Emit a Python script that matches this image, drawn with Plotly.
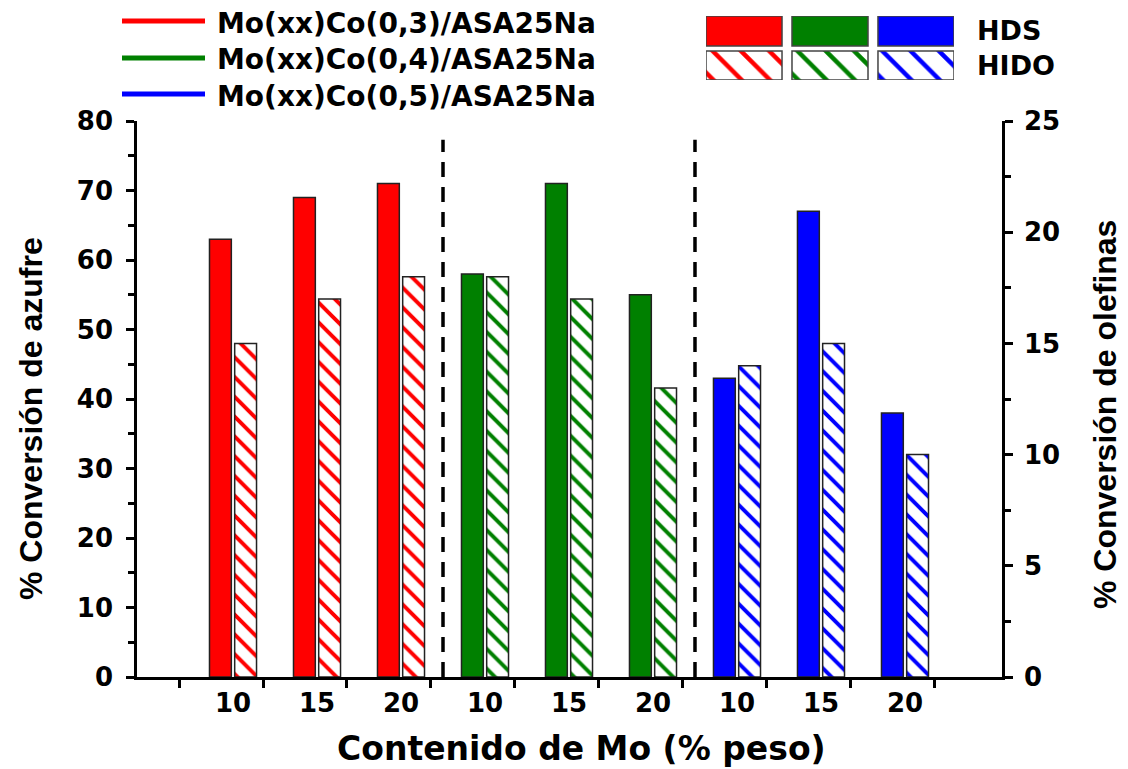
import plotly.graph_objects as go

# ---- data ----
groups = ["Mo(xx)Co(0,3)/ASA25Na", "Mo(xx)Co(0,4)/ASA25Na", "Mo(xx)Co(0,5)/ASA25Na"]
mo_labels = ["10", "15", "20", "10", "15", "20", "10", "15", "20"]
hds = [63, 69, 71, 58, 71, 55, 43, 67, 38]          # % conversión de azufre (left axis)
hido = [15, 17, 18, 18, 17, 13, 14, 15, 10]         # % conversión de olefinas (right axis)
group_colors = ["#ff0000", "#008000", "#0000ff"]

# ---- layout helpers (screen pixel -> paper); page body has an 8px margin ----
OFF = 8
W, H = 1128 - OFF, 769 - OFF
ML, MR, MT, MB = 137 - OFF, 126, 10 - OFF, 92
PW, PH = W - ML - MR, H - MT - MB
def px(x):
    return (x - OFF - ML) / PW
def py(y):
    return (H - MB - (y - OFF)) / PH

ydom_top = py(121)

pos = list(range(len(hds)))
colors = [group_colors[i // 3] for i in pos]

fig = go.Figure()

fig.add_trace(go.Bar(
    x=pos, y=hds, width=0.26, offset=-0.28,
    marker=dict(color=colors, line=dict(color="#222222", width=1.5)),
    xaxis="x", yaxis="y", showlegend=False, hoverinfo="y"))

fig.add_trace(go.Bar(
    x=pos, y=hido, width=0.26, offset=0.02,
    marker=dict(color="white", line=dict(color="#222222", width=1.5),
                pattern=dict(shape="\\", fgcolor=colors, bgcolor="white",
                             size=14, solidity=0.28, fillmode="replace")),
    xaxis="x", yaxis="y2", showlegend=False, hoverinfo="y"))

# legend swatches (top right) drawn in a small auxiliary axis
fig.add_trace(go.Bar(
    x=[0, 1, 2], y=[30, 30, 30], base=[34, 34, 34], width=0.884,
    marker=dict(color=group_colors, line=dict(color="#444444", width=1.5)),
    xaxis="x3", yaxis="y3", showlegend=False, hoverinfo="skip"))
fig.add_trace(go.Bar(
    x=[0, 1, 2], y=[29, 29, 29], base=[0, 0, 0], width=0.884,
    marker=dict(color="white", line=dict(color="#444444", width=1.5),
                pattern=dict(shape="\\", fgcolor=group_colors, bgcolor="white",
                             size=20, solidity=0.22, fillmode="replace")),
    xaxis="x3", yaxis="y3", showlegend=False, hoverinfo="skip"))

tick_font = dict(family="DejaVu Sans", size=26, color="black", weight="bold")

fig.update_layout(
    width=W, height=H,
    margin=dict(l=ML, r=MR, t=MT, b=MB, autoexpand=False),
    paper_bgcolor="white", plot_bgcolor="white",
    barmode="overlay",
    xaxis=dict(range=[-1.143, 9.155], domain=[0, 1], anchor="y", automargin=False,
               tickvals=[-0.643 + k for k in range(10)], showticklabels=False,
               ticks="outside", ticklen=8, tickwidth=2.5, tickcolor="black",
               showline=True, linecolor="black", linewidth=2.5,
               showgrid=False, zeroline=False),
    yaxis=dict(range=[0, 80], domain=[0, ydom_top], anchor="x", automargin=False,
               tickvals=list(range(0, 81, 10)), ticks="outside", ticklen=8,
               tickwidth=2.5, tickcolor="black",
               minor=dict(tickvals=list(range(5, 80, 10)), ticks="outside", ticklen=6,
                          tickwidth=2.5, tickcolor="black"),
               showline=True, linecolor="black", linewidth=2.5,
               showgrid=False, zeroline=False, tickfont=tick_font,
               ticklabelstandoff=8),
    yaxis2=dict(range=[0, 25], domain=[0, ydom_top], anchor="x", overlaying="y",
                side="right", automargin=False, tickvals=list(range(0, 26, 5)),
                ticks="outside", ticklen=8, tickwidth=2.5, tickcolor="black",
                minor=dict(tickvals=[2.5, 7.5, 12.5, 17.5, 22.5], ticks="outside",
                           ticklen=6, tickwidth=2.5, tickcolor="black"),
                showline=True, linecolor="black", linewidth=2.5,
                showgrid=False, zeroline=False, tickfont=tick_font,
                ticklabelstandoff=6),
    xaxis3=dict(domain=[px(706), px(954)], range=[-0.442, 2.442], anchor="y3",
                visible=False, fixedrange=True, automargin=False),
    yaxis3=dict(domain=[py(80), py(16)], range=[0, 64], anchor="x3",
                visible=False, fixedrange=True, automargin=False),
)

# dashed separators between catalyst series
for xv in [2.5, 5.5]:
    fig.add_shape(type="line", xref="x", yref="y", x0=xv, x1=xv, y0=0, y1=77.3,
                  line=dict(color="black", width=3.5, dash="15px,10px"))

annotations = []
# x category labels
for i, lab in enumerate(mo_labels):
    annotations.append(dict(x=i, y=py(703), xref="x", yref="paper", text=lab,
                            showarrow=False, xanchor="center", yanchor="middle",
                            font=tick_font))
# axis titles
annotations.append(dict(x=px(581), y=py(748), xref="paper", yref="paper",
                        text="Contenido de Mo (% peso)", showarrow=False,
                        xanchor="center", yanchor="middle",
                        font=dict(family="DejaVu Sans", size=33, color="black", weight="bold")))
title_font = dict(family="Liberation Sans", size=32, color="black", weight="bold")
annotations.append(dict(x=px(31), y=py(419), xref="paper", yref="paper",
                        text="% Conversión de azufre", showarrow=False, textangle=-90,
                        xanchor="center", yanchor="middle", font=title_font))
annotations.append(dict(x=px(1105), y=py(415), xref="paper", yref="paper",
                        text="% Conversión de olefinas", showarrow=False, textangle=-90,
                        xanchor="center", yanchor="middle", font=title_font))

# left legend (lines + labels)
leg_font = dict(family="DejaVu Sans", size=28, color="black", weight="bold")
for k, (g, c) in enumerate(zip(groups, group_colors)):
    yy = [21, 58, 94][k]
    fig.add_shape(type="line", xref="paper", yref="paper", x0=px(122), x1=px(205),
                  y0=py(yy), y1=py(yy), line=dict(color=c, width=5))
    annotations.append(dict(x=px(215), y=py(yy + 2), xref="paper", yref="paper", text=g,
                            showarrow=False, xanchor="left", yanchor="middle", font=leg_font))

hf = dict(family="DejaVu Sans", size=27, color="black", weight="bold")
annotations.append(dict(x=px(975), y=py(31), xref="paper", yref="paper", text="HDS",
                        showarrow=False, xanchor="left", yanchor="middle", font=hf))
annotations.append(dict(x=px(975), y=py(66), xref="paper", yref="paper", text="HIDO",
                        showarrow=False, xanchor="left", yanchor="middle", font=hf))

fig.update_layout(annotations=annotations)

fig.write_html("out.html")
